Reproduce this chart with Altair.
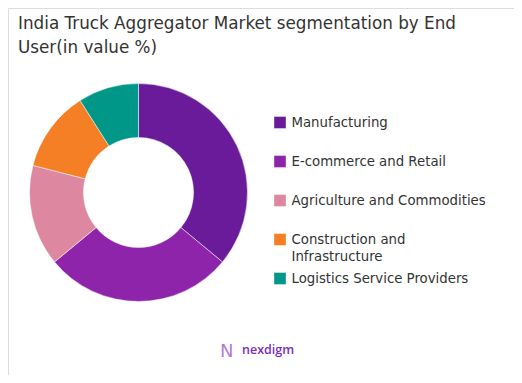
import altair as alt
import pandas as pd

categories = ["Manufacturing", "E-commerce and Retail", "Agriculture and Commodities",
              "Construction and Infrastructure", "Logistics Service Providers"]
legend_labels = ["Manufacturing", "E-commerce and Retail", "Agriculture and Commodities",
                 "Construction and\nInfrastructure", "Logistics Service Providers"]
shares = [36, 28, 15, 12, 9]
colors = ["#6A1B9A", "#8E24AA", "#DE87A0", "#F47F24", "#009688"]
title_lines = ["India Truck Aggregator Market segmentation by End", "User(in value %)"]
brand = "nexdigm"

df = pd.DataFrame({"segment": categories, "label": legend_labels, "share": shares,
                   "idx": list(range(len(categories)))})

color_enc = alt.Color("segment:N", sort=categories,
                      scale=alt.Scale(domain=categories, range=colors), legend=None)

donut = alt.Chart(df).mark_arc(innerRadius=55, outerRadius=109, stroke="white", strokeWidth=0.5).encode(
    theta=alt.Theta("share:Q", stack=True),
    order=alt.Order("idx:Q"),
    color=color_enc,
    x=alt.value(130.5),
    y=alt.value(184.5),
)

ypos = alt.Y("segment:N", sort=categories, axis=None,
             scale=alt.Scale(type="point", range=[114.5, 270.5], padding=0))

leg_sym = alt.Chart(df).mark_square(size=135, opacity=1).encode(
    x=alt.value(272), y=ypos, color=color_enc
)
leg_txt = alt.Chart(df).mark_text(
    align="left", baseline="middle", font="DejaVu Sans", fontSize=13.3,
    color="#333333", lineBreak="\n", lineHeight=17
).encode(x=alt.value(283.5), y=ypos, text="label:N")

title_df = pd.DataFrame({"t": ["\n".join(title_lines)]})
title = alt.Chart(title_df).mark_text(
    align="left", baseline="alphabetic", font="DejaVu Sans", fontSize=16.8,
    color="#333333", lineBreak="\n", lineHeight=24
).encode(text="t:N", x=alt.value(10), y=alt.value(21))

brand_df = pd.DataFrame({"t": [brand]})
logo_text = alt.Chart(brand_df).mark_text(
    align="left", baseline="alphabetic", font="Open Sans", fontSize=12.5,
    fontWeight=600, color="#7B2CBF"
).encode(text="t:N", x=alt.value(234), y=alt.value(346))

icon_df = pd.DataFrame({"t": ["N"]})
logo_icon = alt.Chart(icon_df).mark_text(
    align="left", baseline="alphabetic", font="DejaVu Sans", fontSize=18,
    fontWeight="normal", color="#B07CD8"
).encode(text="t:N", x=alt.value(212), y=alt.value(349))

chart = alt.layer(donut, leg_sym, leg_txt, title, logo_text, logo_icon).properties(
    width=506, height=367, padding=0, autosize=alt.AutoSizeParams(type="none")
).configure_view(stroke=None).configure(background="white")

chart.save("out.html", embed_options={"renderer": "svg", "actions": False})
